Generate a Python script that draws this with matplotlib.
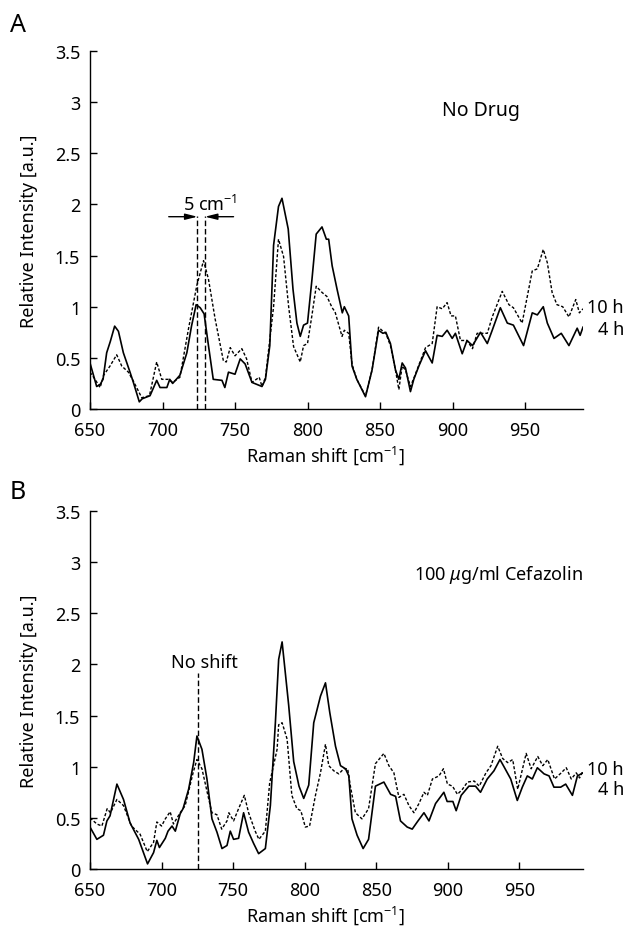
import numpy as np
import matplotlib
matplotlib.use("Agg")
import matplotlib.pyplot as plt

plt.rcParams['font.family'] = ['Noto Sans', 'DejaVu Sans']
plt.rcParams['mathtext.fontset'] = 'custom'
plt.rcParams['mathtext.rm'] = 'Noto Sans'
plt.rcParams['mathtext.it'] = 'Noto Sans:italic'

# Panel A - no drug
a_x_4h = [650, 652, 654.6, 657, 659, 661.5, 664, 667, 669.6, 673, 677.6, 679.7, 684, 686, 691.4,
          696, 698.3, 703, 705, 707, 712, 716.8, 720, 723.2, 726, 728.7, 731.7, 735, 741, 743,
          745.5, 750, 753.6, 757, 761.7, 768.6, 771, 774, 776.6, 780, 782.4, 786.7, 790, 792.7,
          795, 797.3, 800, 803.1, 806, 810, 813, 814.6, 817, 820.4, 824, 825.4, 828.4, 830.7,
          834, 840, 844.5, 849, 852, 854, 857.2, 860.7, 863, 865.3, 867.6, 871, 873.3, 876.8,
          881.4, 886, 889.4, 892.9, 896.3, 899.8, 902, 906.7, 910, 913.8, 919.3, 924, 927.4,
          933, 937.8, 942, 949, 955, 958.5, 962.6, 965.4, 970, 975, 980.3, 986, 988, 990]
a_y_4h = [0.45, 0.35, 0.22, 0.24, 0.29, 0.55, 0.66, 0.81, 0.76, 0.55, 0.36, 0.27, 0.07, 0.10, 0.13,
          0.28, 0.21, 0.21, 0.29, 0.25, 0.33, 0.55, 0.81, 1.02, 0.99, 0.93, 0.62, 0.29, 0.28, 0.21,
          0.36, 0.34, 0.49, 0.44, 0.26, 0.22, 0.29, 0.62, 1.60, 1.98, 2.06, 1.76, 1.17, 0.84,
          0.71, 0.82, 0.84, 1.27, 1.71, 1.78, 1.66, 1.66, 1.40, 1.17, 0.94, 1.00, 0.91, 0.42,
          0.29, 0.12, 0.38, 0.77, 0.74, 0.75, 0.64, 0.38, 0.29, 0.45, 0.40, 0.17, 0.29, 0.42,
          0.57, 0.45, 0.72, 0.71, 0.77, 0.69, 0.74, 0.54, 0.67, 0.62, 0.75, 0.64, 0.77,
          0.99, 0.84, 0.82, 0.62, 0.94, 0.92, 1.00, 0.84, 0.69, 0.74, 0.62, 0.79, 0.72, 0.80]

a_x_10h = [650, 653, 657, 659.4, 663.8, 668.4, 671.9, 676.5, 680, 685.7, 691, 696, 699.5, 704, 707,
           712, 718, 723.7, 728.3, 731.7, 736.3, 742, 744, 746.7, 750, 754.7, 758, 761.7, 766.7,
           768.6, 771, 776.6, 780, 783.5, 787, 790.4, 795, 797.3, 800, 803, 806, 810, 813.4, 817,
           819, 823.8, 825.4, 828.4, 830.7, 834, 840, 844.5, 849, 852, 854, 857.2, 860.7, 863,
           865.3, 867.6, 871, 873.3, 876.8, 881.4, 886, 889.4, 892.9, 896.3, 899, 902, 905.5, 910,
           913.8, 917, 924, 927.4, 934.3, 938.9, 942, 948, 955, 958.5, 962.6, 965.4, 968.7, 972,
           976, 980.3, 985, 987.5, 990]
a_y_10h = [0.36, 0.30, 0.21, 0.33, 0.42, 0.53, 0.42, 0.36, 0.27, 0.11, 0.13, 0.46, 0.29, 0.29, 0.26,
           0.31, 0.79, 1.21, 1.45, 1.27, 0.88, 0.47, 0.46, 0.60, 0.52, 0.59, 0.49, 0.26, 0.31,
           0.22, 0.31, 1.00, 1.66, 1.49, 1.00, 0.61, 0.46, 0.62, 0.64, 0.91, 1.20, 1.14, 1.10, 0.99,
           0.95, 0.71, 0.77, 0.74, 0.44, 0.29, 0.13, 0.38, 0.80, 0.76, 0.74, 0.62, 0.38, 0.19,
           0.42, 0.38, 0.22, 0.30, 0.43, 0.60, 0.64, 1.00, 0.98, 1.04, 0.91, 0.91, 0.67, 0.67,
           0.59, 0.74, 0.74, 0.90, 1.15, 1.02, 0.99, 0.84, 1.35, 1.37, 1.56, 1.43, 1.14, 1.02,
           1.00, 0.90, 1.07, 0.94, 0.98]

# Panel B - 100 ug/ml cefazolin
b_x_4h = [650, 654.8, 659.4, 661.8, 664, 668.8, 673.4, 678, 684, 690.2, 694.4, 696.7, 698.5, 702.6,
          704.5, 707.3, 709.6, 713, 715, 718.9, 722.4, 724.7, 728.2, 731.7, 735.2, 738.7, 742.2,
          745.7, 748, 750.3, 753.8, 757.3, 760.8, 764.3, 767.8, 772.5, 776, 779.5, 781.8, 784.2,
          788.8, 792.3, 796, 799.3, 802.8, 806.3, 811, 814.5, 817.5, 821.5, 825, 828.5, 830.8,
          833, 836.6, 840.8, 844.6, 849.4, 855.3, 860, 863.5, 866.9, 871.6, 875.1, 878.6, 883.3,
          886.8, 891.4, 897.2, 899.5, 903.5, 905.8, 909.3, 914.7, 919.3, 922.8, 927.5, 932.2,
          936.4, 939.2, 943.9, 948.5, 952, 955.5, 959, 962.5, 967.2, 970.7, 974.1, 978.8, 982.3,
          987, 990.5, 994.4]
b_y_4h = [0.41, 0.29, 0.33, 0.47, 0.52, 0.83, 0.68, 0.45, 0.29, 0.05, 0.16, 0.28, 0.21, 0.30,
          0.37, 0.42, 0.37, 0.54, 0.59, 0.78, 1.04, 1.30, 1.17, 0.88, 0.49, 0.36, 0.20,
          0.23, 0.37, 0.29, 0.30, 0.55, 0.36, 0.25, 0.15, 0.20, 0.62, 1.43, 2.05, 2.22,
          1.60, 1.05, 0.81, 0.69, 0.82, 1.43, 1.69, 1.82, 1.53, 1.20, 1.01, 0.98, 0.91,
          0.49, 0.33, 0.20, 0.29, 0.81, 0.85, 0.73, 0.71, 0.47, 0.41, 0.39, 0.46, 0.55,
          0.47, 0.64, 0.75, 0.66, 0.66, 0.57, 0.72, 0.81, 0.81, 0.75, 0.88, 0.96,
          1.07, 1.00, 0.88, 0.67, 0.80, 0.91, 0.88, 0.99, 0.93, 0.91, 0.80, 0.80, 0.83,
          0.72, 0.91, 0.94]

b_x_10h = [650, 654.8, 658.3, 662, 664.3, 668.8, 673.4, 679, 685, 690, 694.4, 696.7, 700, 702.6,
           706, 708.3, 713, 716.5, 722, 724.7, 728.2, 733, 735.2, 738.7, 742, 745.7, 747, 750.3,
           753.8, 757.8, 760.8, 765.4, 768, 772.5, 775.5, 780.7, 781.8, 784.2, 787.7, 791, 794.5,
           797.3, 800.4, 803.4, 807.5, 811, 814.5, 816.8, 820.3, 823.8, 827.3, 830, 831.9, 835.4,
           840, 844.6, 849.4, 855.3, 858.8, 862.3, 865.8, 869.3, 872.8, 876.3, 879.8, 883.3,
           885.7, 889.2, 893.8, 896.9, 899.7, 903.2, 906.7, 910.2, 913.7, 918.4, 921.9, 926.6,
           930.1, 934.8, 938.3, 941.8, 945.3, 948.8, 954.7, 958.2, 962.8, 966.3, 969.8, 974.5,
           979.2, 982.7, 986.2, 989.7, 992, 994.4]
b_y_10h = [0.50, 0.44, 0.42, 0.59, 0.55, 0.68, 0.62, 0.42, 0.34, 0.17, 0.26, 0.46, 0.42, 0.49,
           0.56, 0.44, 0.55, 0.62, 0.94, 1.07, 0.98, 0.68, 0.55, 0.53, 0.39, 0.47, 0.55, 0.47,
           0.59, 0.72, 0.55, 0.37, 0.29, 0.37, 0.84, 1.17, 1.41, 1.43, 1.27, 0.72, 0.59,
           0.57, 0.41, 0.42, 0.72, 0.94, 1.22, 1.01, 0.96, 0.93, 0.98, 0.98, 0.81, 0.55,
           0.49, 0.59, 1.03, 1.13, 1.01, 0.94, 0.70, 0.73, 0.62, 0.55, 0.64, 0.75,
           0.72, 0.88, 0.91, 0.98, 0.83, 0.81, 0.73, 0.78, 0.85, 0.86, 0.81, 0.94,
           1.01, 1.20, 1.08, 1.04, 1.07, 0.78, 1.13, 0.98, 1.10, 1.01, 1.07, 0.88,
           0.94, 0.99, 0.88, 0.94, 0.89, 0.96]

x_ticks = [650, 700, 750, 800, 850, 900, 950]
y_ticks = [0, 0.5, 1, 1.5, 2, 2.5, 3, 3.5]
y_ticklabels = ['0', '0.5', '1', '1.5', '2', '2.5', '3', '3.5']

dash = (0, (2.2, 1.4))
fs = 13

fig = plt.figure(figsize=(6.28, 9.29), dpi=100)
axA = fig.add_axes([90/628, 1-410/929, 493/628, 358/929])
axB = fig.add_axes([90/628, 1-870/929, 493/628, 358/929])


def style(ax, xmax):
    ax.set_xlim(650, xmax)
    ax.set_ylim(0, 3.5)
    ax.set_xticks(x_ticks)
    ax.set_yticks(y_ticks)
    ax.set_yticklabels(y_ticklabels)
    for s in ['top', 'right']:
        ax.spines[s].set_visible(False)
    for s in ['left', 'bottom']:
        ax.spines[s].set_linewidth(1.0)
    ax.tick_params(direction='in', length=5, width=1, labelsize=fs)
    ax.tick_params(axis='x', pad=9)
    ax.tick_params(axis='y', pad=7)
    ax.set_xlabel('Raman shift [cm$^{-1}$]', fontsize=fs)
    ax.set_ylabel('Relative Intensity [a.u.]', fontsize=fs)
    ax.xaxis.set_label_coords((326-90)/493, -0.095)
    ax.yaxis.set_label_coords(-0.105, 0.5)


arrow = '-|>,head_length=0.6,head_width=0.15'

# panel A
axA.plot(a_x_4h, a_y_4h, color='black', lw=1.2)
axA.plot(a_x_10h, a_y_10h, color='black', lw=1.0, linestyle=dash)
style(axA, 990)
axA.vlines([724.1, 729.3], 0, 1.89, colors='black', linestyles=(0, (4, 2)), lw=1.0)
axA.annotate('', xy=(724.1, 1.88), xytext=(704.3, 1.88),
             arrowprops=dict(arrowstyle=arrow, color='black', lw=1.0, mutation_scale=12,
                             shrinkA=0, shrinkB=0))
axA.annotate('', xy=(729.3, 1.88), xytext=(749, 1.88),
             arrowprops=dict(arrowstyle=arrow, color='black', lw=1.0, mutation_scale=12,
                             shrinkA=0, shrinkB=0))
axA.text(733, 2.0, '5 cm$^{-1}$', ha='center', va='center', fontsize=fs)
axA.text(0.714, 2.92, 'No Drug', transform=axA.get_yaxis_transform(),
         ha='left', va='center', fontsize=14)
axA.text(1.083, 1.0, '10 h', transform=axA.get_yaxis_transform(),
         ha='right', va='center', fontsize=fs)
axA.text(1.083, 0.78, '4 h', transform=axA.get_yaxis_transform(),
         ha='right', va='center', fontsize=fs)

# panel B
axB.plot(b_x_4h, b_y_4h, color='black', lw=1.2)
axB.plot(b_x_10h, b_y_10h, color='black', lw=1.0, linestyle=dash)
style(axB, 994.4)
axB.vlines([725.2], 0, 1.92, colors='black', linestyles=(0, (4, 2)), lw=1.0)
axB.text(729.9, 2.02, 'No shift', ha='center', va='center', fontsize=fs)
axB.text(1.0, 2.88, '100 $\\mu$g/ml Cefazolin', transform=axB.get_yaxis_transform(),
         ha='right', va='center', fontsize=fs)
axB.text(1.083, 0.98, '10 h', transform=axB.get_yaxis_transform(),
         ha='right', va='center', fontsize=fs)
axB.text(1.083, 0.78, '4 h', transform=axB.get_yaxis_transform(),
         ha='right', va='center', fontsize=fs)

fig.text(10/628, 1-26/929, 'A', fontsize=18, ha='left', va='center')
fig.text(10/628, 1-493/929, 'B', fontsize=18, ha='left', va='center')

fig.savefig('out.png', dpi=100)
